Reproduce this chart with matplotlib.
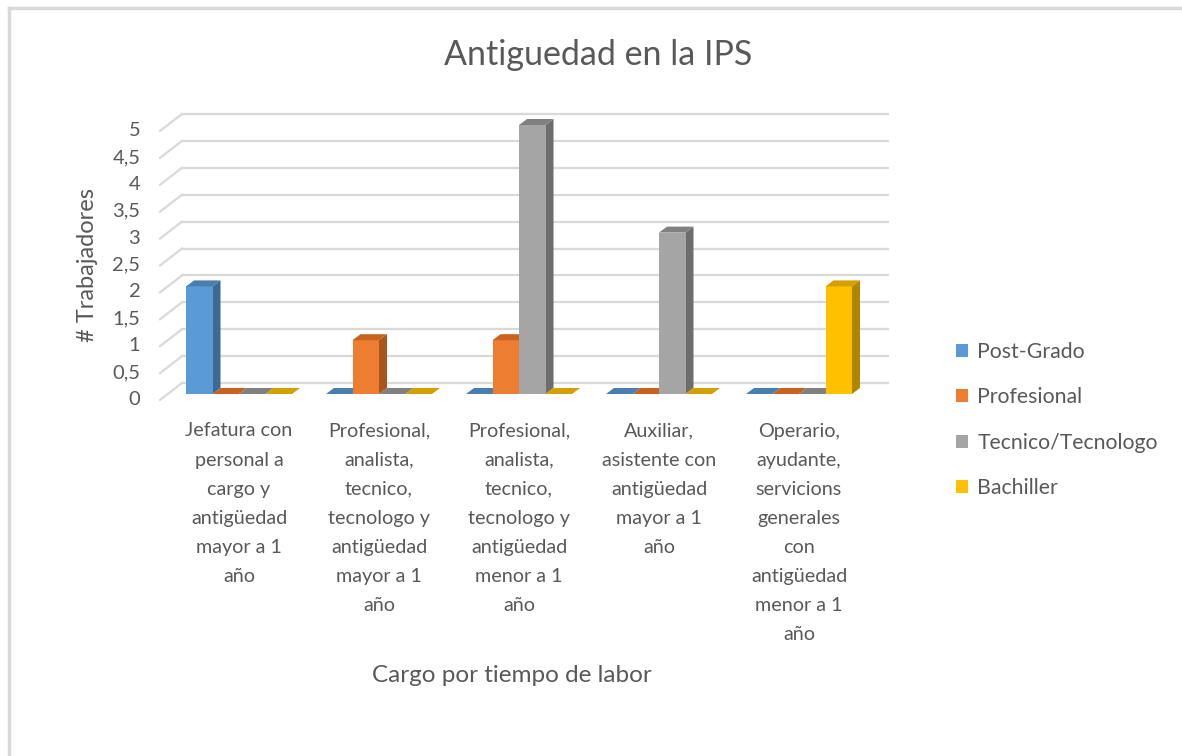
import numpy as np
import matplotlib.pyplot as plt
import matplotlib.transforms as mtransforms
from matplotlib.patches import Polygon, Patch
from matplotlib.lines import Line2D

plt.rcParams['font.family'] = ['Lato', 'DejaVu Sans']

categories = ["Jefatura con\npersonal a\ncargo y\nantigüedad\nmayor a 1\naño",
              "Profesional,\nanalista,\ntecnico,\ntecnologo y\nantigüedad\nmayor a 1\naño",
              "Profesional,\nanalista,\ntecnico,\ntecnologo y\nantigüedad\nmenor a 1\naño",
              "Auxiliar,\nasistente con\nantigüedad\nmayor a 1\naño",
              "Operario,\nayudante,\nservicions\ngenerales\ncon\nantigüedad\nmenor a 1\naño"]
series_names = ["Post-Grado", "Profesional", "Tecnico/Tecnologo", "Bachiller"]
post_grado = [2, 0, 0, 0, 0]
profesional = [0, 1, 1, 0, 0]
tecnico = [0, 0, 5, 3, 0]
bachiller = [0, 0, 0, 0, 2]
y_ticks = [0, 0.5, 1, 1.5, 2, 2.5, 3, 3.5, 4, 4.5, 5]
y_labels = ["0", "0,5", "1", "1,5", "2", "2,5", "3", "3,5", "4", "4,5", "5"]

front_colors = ["#5B9BD5", "#ED7D31", "#A5A5A5", "#FFC000"]
side_colors = ["#3C6A93", "#A9561E", "#6D6D6D", "#B08600"]
top_colors = ["#4A7EB0", "#C8631F", "#808080", "#D4A000"]
text_col = "#595959"
grid_col = "#D9D9D9"

W, H = 1182, 756
fig = plt.figure(figsize=(W / 100, H / 100), dpi=100)
ax = fig.add_axes([150 / W, 1 - 410 / H, 750 / W, 310 / H])
px_x = 140.0   # pixels per category
px_y = 53.8    # pixels per unit
ax.set_xlim((150 - 239) / px_x, (900 - 239) / px_x)
ax.set_ylim(-(410 - 394) / px_y, (394 - 100) / px_y)
for s in ax.spines.values():
    s.set_visible(False)

# back wall gridlines + side wall diagonals
back_dy = 11 / px_y
front_dy = -6 / px_y
x_back0, x_back1 = (182 - 239) / px_x, (888 - 239) / px_x
x_front = (160 - 239) / px_x
for v in y_ticks:
    ax.plot([x_back0, x_back1], [v + back_dy, v + back_dy], color=grid_col, lw=1.6, zorder=1)
    ax.plot([x_front, x_back0], [v + front_dy, v + back_dy], color=grid_col, lw=1.6, zorder=1)

# bars
bw = 26.5 / px_x
ddx = 8 / px_x
ddy = 6 / px_y
all_series = [post_grado, profesional, tecnico, bachiller]
x = np.arange(len(categories))
z = 3
for i in range(len(categories)):
    for j, vals in enumerate(all_series):
        x0 = x[i] + (j - 2) * bw
        h = vals[i]
        if h > 0:
            ax.add_patch(Polygon([(x0 + bw, 0), (x0 + bw + ddx, ddy), (x0 + bw + ddx, h + ddy), (x0 + bw, h)],
                                 closed=True, color=side_colors[j], lw=0, zorder=z))
            ax.bar(x0, h, width=bw, align='edge', color=front_colors[j], lw=0, zorder=z)
        ax.add_patch(Polygon([(x0, h), (x0 + bw, h), (x0 + bw + ddx, h + ddy), (x0 + ddx, h + ddy)],
                             closed=True, color=top_colors[j], lw=0, zorder=z))
        z += 1

ax.set_xticks(x)
ax.set_xticklabels(categories, fontsize=14.2, color=text_col, linespacing=1.86, va='top')
ax.tick_params(axis='x', length=0, pad=9)
ax.set_yticks(y_ticks)
ax.set_yticklabels(y_labels, fontsize=14.5, color=text_col)
ax.tick_params(axis='y', length=0, pad=7)
shift = mtransforms.ScaledTranslation(0, -4 / 100, fig.dpi_scale_trans)
for lbl in ax.get_yticklabels():
    lbl.set_transform(lbl.get_transform() + shift)

fig.text(598 / W, 1 - 55 / H, "Antiguedad en la IPS", ha='center', va='center', fontsize=24.5, color=text_col)
fig.text(88 / W, 1 - 265 / H, "# Trabajadores", ha='center', va='center', rotation=90, fontsize=17, color=text_col)
fig.text(512 / W, 1 - 676 / H, "Cargo por tiempo de labor", ha='center', va='center', fontsize=17.5, color=text_col)

handles = [Patch(facecolor=c, edgecolor='none') for c in front_colors]
fig.legend(handles, series_names, loc='center left', bbox_to_anchor=(937 / W, 1 - 420 / H), frameon=False,
           fontsize=15.3, labelcolor=text_col, handlelength=0.55, handleheight=0.55, handletextpad=0.45,
           labelspacing=1.2)

# chart frame (top and left edges visible)
fig.add_artist(Line2D([9 / W, 1], [1 - 8 / H, 1 - 8 / H], color=grid_col, lw=2.5))
fig.add_artist(Line2D([9 / W, 9 / W], [0, 1 - 8 / H], color=grid_col, lw=2.5))

fig.savefig("out.png", dpi=100)
